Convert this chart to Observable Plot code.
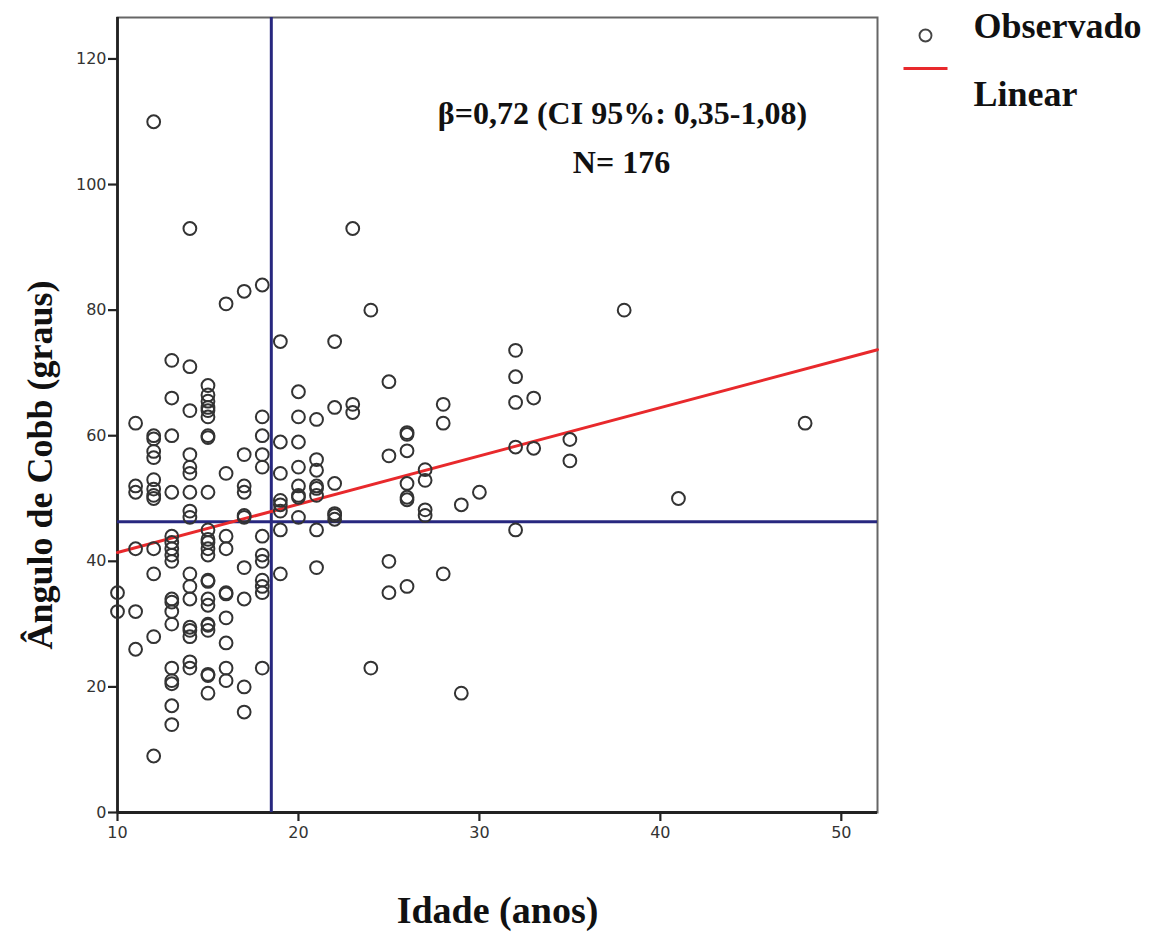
<!DOCTYPE html>
<html>
<head>
<meta charset="utf-8">
<script src="https://cdn.jsdelivr.net/npm/d3@7"></script>
<script src="https://cdn.jsdelivr.net/npm/@observablehq/plot@0.6"></script>
<style>
  html, body { margin: 0; padding: 0; background: #fff; }
  #chart svg { display: block; }
</style>
</head>
<body>
<div id="chart"></div>
<script>
// Age groups (anos) and the Cobb angles (graus) observed at each age
const ageGroups = [10, 11, 12, 13, 14, 15, 16, 17, 18, 19, 20, 21, 22, 23, 24, 25, 26, 27, 28, 29, 30, 32, 33, 35, 38, 41, 48];
const anglesByAge = [
  [35, 32],
  [62, 52, 51, 42, 32, 26],
  [110, 60, 59.5, 57.5, 56.5, 53, 51.5, 50.5, 50, 42, 38, 28, 9],
  [72, 66, 60, 51, 44, 43, 42, 41, 40, 34, 33.5, 32, 30, 23, 21, 20.5, 17, 14],
  [93, 71, 64, 57, 55, 54, 51, 48, 47, 38, 36, 34, 29.5, 29, 28, 24, 23],
  [68, 66.5, 65.5, 64.5, 64, 63, 60, 59.7, 51, 45, 43.5, 43, 42, 41, 37, 36.8, 34, 33, 30, 29.8, 29, 22, 21.8, 19],
  [81, 54, 44, 42, 35, 34.8, 31, 27, 23, 21],
  [83, 57, 52, 51, 47.3, 47, 39, 34, 20, 16],
  [84, 63, 60, 57, 55, 44, 41, 40, 37, 36, 35, 23],
  [75, 59, 54, 49.7, 49, 48, 45, 38],
  [67, 63, 59, 55, 52, 50.5, 50.2, 47],
  [62.6, 56.2, 54.5, 52, 51.6, 50.5, 45, 39],
  [75, 64.5, 52.4, 47.6, 47.3, 46.7],
  [93, 65, 63.7],
  [80, 23],
  [68.6, 56.8, 40, 35],
  [60.5, 60.2, 57.6, 52.4, 50.2, 49.8, 36],
  [54.6, 52.9, 48.2, 47.3],
  [65, 62, 38],
  [49, 19],
  [51],
  [73.6, 69.4, 65.3, 58.2, 45],
  [66, 58],
  [59.4, 56],
  [80],
  [50],
  [62]
];

// Linear fit line end points
const fitAges = [10, 52];
const fitAngles = [41.4, 73.7];

// Reference lines (mean age / mean angle)
const refAge = [18.5];
const refAngle = [46.3];

// Axis ticks
const xTicks = [10, 20, 30, 40, 50];
const yTicks = [0, 20, 40, 60, 80, 100, 120];

// Texts
const xTitle = "Idade (anos)";
const yTitle = "Ângulo de Cobb (graus)";
const statText = "β=0,72 (CI 95%: 0,35-1,08)";
const nText = "N= 176";
const legendLabels = ["Observado", "Linear"];

const data = ageGroups.flatMap((a, i) => anglesByAge[i].map(v => ({age: a, angle: v})));
const fit = fitAges.map((a, i) => ({age: a, angle: fitAngles[i]}));

const serif = "'Liberation Serif', 'Times New Roman', serif";
const lineSymbol = {draw(ctx) { ctx.moveTo(-22, 0); ctx.lineTo(22, 0); }};
const titleStyle = {fontFamily: serif, fontWeight: "bold", fill: "#111", lineAnchor: "middle"};

const chart = Plot.plot({
  width: 1152,
  height: 933,
  marginLeft: 117,
  marginRight: 275,
  marginTop: 17,
  marginBottom: 121,
  x: {domain: [10, 52]},
  y: {domain: [0, 126.6]},
  style: {fontFamily: "'DejaVu Sans', sans-serif", fontSize: "16px", color: "#333", background: "#fff"},
  marks: [
    Plot.frame({stroke: "#666", strokeWidth: 2}),
    Plot.axisX({ticks: xTicks, tickSize: 9, tickPadding: 5, label: null, stroke: "#222", strokeWidth: 2.2}),
    Plot.axisY({ticks: yTicks, tickSize: 9, tickPadding: 2, label: null, stroke: "#222", strokeWidth: 2.2}),
    Plot.ruleY([0], {stroke: "#222", strokeWidth: 2.8}),
    Plot.ruleX([10], {stroke: "#222", strokeWidth: 2.8}),
    Plot.ruleX(refAge, {stroke: "#27277f", strokeWidth: 3}),
    Plot.ruleY(refAngle, {stroke: "#27277f", strokeWidth: 3}),
    Plot.line(fit, {x: "age", y: "angle", stroke: "#e8292c", strokeWidth: 3}),
    Plot.dot(data, {x: "age", y: "angle", r: 6.4, stroke: "#333", strokeWidth: 2, fill: "none"}),
    // annotations
    Plot.text([statText], {...titleStyle, frameAnchor: "top", textAnchor: "middle", dx: 125, dy: 96, fontSize: 32}),
    Plot.text([nText], {...titleStyle, frameAnchor: "top", textAnchor: "middle", dx: 124, dy: 145, fontSize: 32}),
    // axis titles
    Plot.text([xTitle], {...titleStyle, frameAnchor: "bottom", textAnchor: "middle", dy: 98, fontSize: 38}),
    Plot.text([yTitle], {...titleStyle, frameAnchor: "left", textAnchor: "middle", dx: -77, dy: 50, rotate: -90, fontSize: 36}),
    // legend
    Plot.dot([0], {frameAnchor: "top-right", dx: 48, dy: 18, r: 6, stroke: "#444", strokeWidth: 1.9, fill: "none"}),
    Plot.dot([0], {frameAnchor: "top-right", dx: 48, dy: 51, symbol: lineSymbol, stroke: "#e8292c", strokeWidth: 3, fill: "none"}),
    Plot.text([legendLabels[0]], {...titleStyle, frameAnchor: "top-right", textAnchor: "start", dx: 96, dy: 9, fontSize: 36}),
    Plot.text([legendLabels[1]], {...titleStyle, frameAnchor: "top-right", textAnchor: "start", dx: 96, dy: 77, fontSize: 36})
  ]
});
document.getElementById("chart").append(chart);
</script>
</body>
</html>
